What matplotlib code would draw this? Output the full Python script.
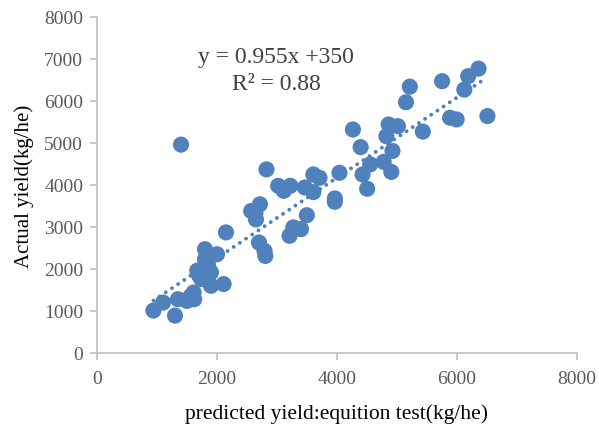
import matplotlib
matplotlib.use("Agg")
import matplotlib.pyplot as plt
import numpy as np

predicted = [940, 1100, 1300, 1400, 1350, 1500, 1560, 1610, 1620, 1670, 1800, 1800, 1740,
             1900, 1900, 2000, 2110, 2150, 2570, 2650, 2716, 2700, 2793, 2806, 2825,
             3020, 3113, 3222, 3210, 3273, 3400, 3498, 3466, 3607, 3607, 3709, 3965, 3965,
             4042, 4266, 4395, 4427, 4504, 4555, 4779, 4824, 4862, 4926, 4907, 5016, 5151,
             5215, 5432, 5753, 5887, 5996, 6124, 6188, 6361, 6509, 1700, 1850, 2640]
actual = [1010, 1200, 890, 4960, 1280, 1240, 1350, 1440, 1280, 1960, 2470, 2230, 1760,
          1920, 1600, 2350, 1640, 2870, 3380, 3180, 3540, 2630, 2430, 2310, 4370,
          3980, 3860, 3980, 2790, 2990, 2950, 3280, 3940, 3830, 4250, 4170, 3680, 3600,
          4290, 5320, 4900, 4250, 3910, 4490, 4550, 5160, 5440, 4810, 4310, 5400, 5970,
          6340, 5270, 6470, 5600, 5560, 6270, 6590, 6770, 5640, 1850, 2100, 3330]
slope = 0.955
intercept = 350
trend_x = [940, 6490]
eq_text = "y = 0.955x +350"
r2_text = "R² = 0.88"

plt.rcParams['font.family'] = ['Liberation Serif', 'DejaVu Serif']

fig = plt.figure(figsize=(5.99, 4.27), dpi=100)
ax = fig.add_axes([0.162, 0.171, 0.801, 0.787])

blue = '#4F81BD'
ax.scatter(predicted, actual, s=135, color=blue, edgecolors='none', zorder=3)
tx = np.array(trend_x)
ax.plot(tx, slope * tx + intercept, linestyle=(0, (0.01, 1.9)), linewidth=2.8,
        color=blue, dash_capstyle='round', zorder=2)

ax.set_xlim(0, 8000)
ax.set_ylim(0, 8000)
ax.set_xticks(range(0, 8001, 2000))
ax.set_yticks(range(0, 8001, 1000))
for s in ['top', 'right']:
    ax.spines[s].set_visible(False)
for s in ['left', 'bottom']:
    ax.spines[s].set_color('#BFBFBF')
    ax.spines[s].set_linewidth(1.2)
ax.tick_params(axis='both', colors='#BFBFBF', labelcolor='#595959', labelsize=14,
               length=5, width=1.2, direction='out')
ax.tick_params(axis='x', pad=7)
ax.tick_params(axis='y', pad=5)

ax.set_xlabel("predicted yield:equition test(kg/he)", fontsize=15.5, color='black', labelpad=12)
ax.set_ylabel("Actual yield(kg/he)", fontsize=15, color='black', labelpad=7)

ax.text(2990, 6929, eq_text, fontsize=17, color='#404040', ha='center', va='baseline')
ax.text(2990, 6286, r2_text, fontsize=17, color='#404040', ha='center', va='baseline')

fig.savefig("out.png", dpi=100)
